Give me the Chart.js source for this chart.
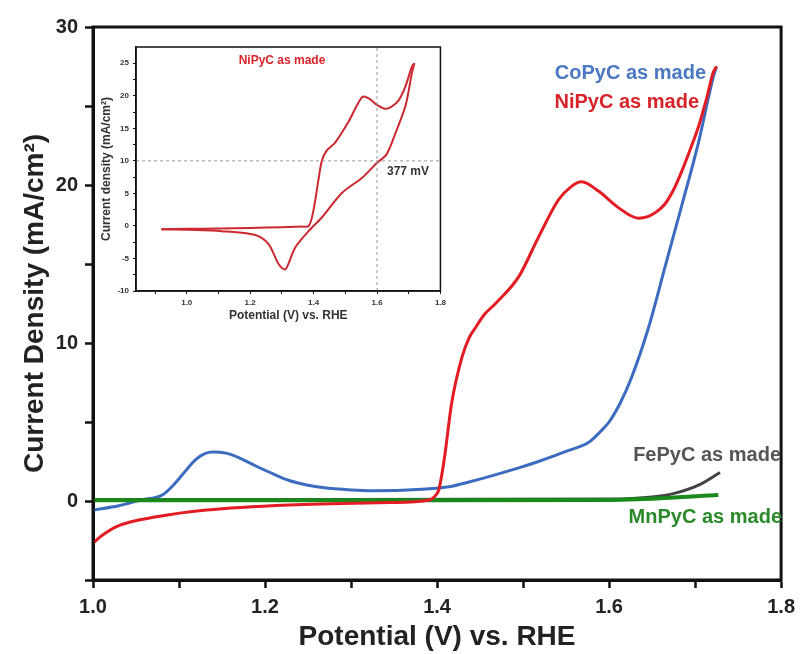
<!DOCTYPE html>
<html>
<head>
<meta charset="utf-8">
<script src="https://cdn.jsdelivr.net/npm/chart.js@4.4.1/dist/chart.umd.min.js"></script>
<style>
  body { margin: 0; background: #fff; }
  #wrap { position: relative; width: 802px; height: 654px; }
  #mainChart { position: absolute; left: 0; top: 0; }
  #insetChart { position: absolute; left: 95px; top: 38px; }
</style>
</head>
<body>
<div id="wrap">
  <canvas id="mainChart" width="802" height="654"></canvas>
  <canvas id="insetChart" width="355" height="290"></canvas>
</div>
<script>
'use strict';
//main panel data (potential in V vs RHE, current density in mA/cm2)
var coPotential = [1.0, 1.03, 1.055, 1.081, 1.095, 1.109, 1.12, 1.13, 1.139, 1.148, 1.16, 1.175, 1.19, 1.21, 1.228, 1.25, 1.267, 1.3, 1.325, 1.383, 1.414, 1.437, 1.495, 1.518, 1.553, 1.576, 1.59, 1.6, 1.613, 1.626, 1.646, 1.665, 1.684, 1.704, 1.721, 1.725];
var coCurrent = [-0.57, -0.3, 0.06, 0.4, 1.1, 2.0, 2.65, 3.0, 3.1, 3.08, 2.95, 2.6, 2.2, 1.7, 1.3, 1.0, 0.85, 0.7, 0.65, 0.75, 0.9, 1.2, 2.1, 2.5, 3.2, 3.7, 4.4, 5.0, 6.2, 7.8, 11.0, 14.8, 18.6, 22.7, 26.8, 27.5];

var niPotential = [1.0, 1.01, 1.028, 1.074, 1.132, 1.228, 1.344, 1.391, 1.399, 1.402, 1.408, 1.417, 1.429, 1.437, 1.445, 1.455, 1.468, 1.495, 1.518, 1.541, 1.556, 1.568, 1.588, 1.61, 1.634, 1.645, 1.655, 1.665, 1.675, 1.684, 1.694, 1.704, 1.713, 1.721, 1.725];
var niCurrent = [-2.66, -2.2, -1.6, -1.0, -0.57, -0.25, -0.1, 0.06, 0.4, 0.7, 2.5, 6.2, 9.1, 10.3, 11.0, 11.8, 12.5, 14.2, 16.7, 19.05, 19.9, 20.2, 19.6, 18.6, 17.9, 18.0, 18.3, 18.8, 19.7, 20.8, 22.2, 23.7, 25.4, 27.1, 27.5];

var fePotential = [1.0, 1.3, 1.6, 1.65, 1.677, 1.704, 1.729];
var feCurrent = [0.1, 0.1, 0.12, 0.25, 0.5, 1.0, 1.8];

var mnPotential = [1.0, 1.2, 1.4, 1.588, 1.65, 1.727];
var mnCurrent = [0.05, 0.05, 0.05, 0.06, 0.15, 0.38];

var potentialTicks = [1.0, 1.1, 1.2, 1.3, 1.4, 1.5, 1.6, 1.7, 1.8];
var currentTicks = [-5, 0, 5, 10, 15, 20, 25, 30];

//inset data: NiPyC cyclic voltammogram, forward then reverse sweep
var cvForwardPotential = [0.92, 1.0, 1.1, 1.2, 1.3, 1.36, 1.385, 1.40, 1.415, 1.426, 1.44, 1.468, 1.51, 1.553, 1.574, 1.60, 1.626, 1.645, 1.668, 1.69, 1.71, 1.718];
var cvForwardCurrent = [-0.5, -0.45, -0.4, -0.3, -0.2, -0.1, 0, 2.5, 7, 10, 11.5, 12.8, 16, 19.8, 19.6, 18.6, 18, 18.3, 19.3, 21.5, 24.5, 25];
var cvReversePotential = [1.718, 1.71, 1.69, 1.66, 1.63, 1.6, 1.553, 1.49, 1.426, 1.384, 1.342, 1.32, 1.31, 1.29, 1.258, 1.216, 1.11, 1.0, 0.92];
var cvReverseCurrent = [25, 23.5, 18.5, 14.5, 11, 9.7, 7.4, 5.1, 1.3, -0.8, -3.3, -5.9, -6.7, -5.9, -2.8, -1.4, -0.8, -0.6, -0.5];

var insetPotentialTicks = [0.9, 1.0, 1.1, 1.2, 1.3, 1.4, 1.5, 1.6, 1.7, 1.8];
var insetCurrentTicks = [-10, -7.5, -5, -2.5, 0, 2.5, 5, 7.5, 10, 12.5, 15, 17.5, 20, 22.5, 25];
var refCurrent = 10;   //10 mA/cm2 benchmark
var refPotential = 1.6;

var FONT = '"Liberation Sans", Arial, sans-serif';

function toPoints(xs, ys){
  var pts = [];
  for(var i = 0; i < xs.length; i++){
    pts.push({x: xs[i], y: ys[i]});
  }
  return pts;
}

//frame around plot area
var framePlugin = {
  id: 'frame',
  afterDraw: function(chart, args, opts){
    var a = chart.chartArea;
    var ctx = chart.ctx;
    ctx.save();
    ctx.strokeStyle = '#111';
    ctx.lineWidth = opts.width;
    ctx.strokeRect(a.left, a.top, a.right - a.left, a.bottom - a.top);
    ctx.restore();
  }
};

//text annotations
var textPlugin = {
  id: 'labels',
  afterDraw: function(chart, args, opts){
    var ctx = chart.ctx;
    ctx.save();
    ctx.textBaseline = 'middle';
    opts.items.forEach(function(it){
      ctx.font = it.font;
      ctx.fillStyle = it.color;
      ctx.textAlign = it.align;
      ctx.fillText(it.text, it.x, it.y);
    });
    ctx.restore();
  }
};

function setTicks(values){
  return function(scale){
    scale.ticks = values.map(function(v){ return {value: v}; });
  };
}

//main chart
new Chart(document.getElementById('mainChart').getContext('2d'), {
  type: 'line',
  data: {
    datasets: [
      {label: 'NiPyC as made', data: toPoints(niPotential, niCurrent), borderColor: '#e31b23', borderWidth: 3},
      {label: 'MnPyC as made', data: toPoints(mnPotential, mnCurrent), borderColor: '#1a8a1a', borderWidth: 4},
      {label: 'FePyC as made', data: toPoints(fePotential, feCurrent), borderColor: '#444', borderWidth: 3},
      {label: 'CoPyC as made', data: toPoints(coPotential, coCurrent), borderColor: '#3b6cc0', borderWidth: 3},
    ]
  },
  options: {
    responsive: false,
    animation: false,
    parsing: false,
    elements: {
      point: {radius: 0},
      line: {cubicInterpolationMode: 'monotone', fill: false}
    },
    layout: {padding: {top: 27, right: 19, left: 0, bottom: 0}},
    plugins: {
      legend: {display: false},
      tooltip: {enabled: false},
      frame: {width: 3},
      labels: {
        items: [
          {text: 'CoPyC as made', x: 706, y: 73, color: '#4a78c2', align: 'right', font: 'bold 20px ' + FONT},
          {text: 'NiPyC as made', x: 699, y: 102, color: '#d8232a', align: 'right', font: 'bold 20px ' + FONT},
          {text: 'FePyC as made', x: 781, y: 455, color: '#555', align: 'right', font: 'bold 20px ' + FONT},
          {text: 'MnPyC as made', x: 782, y: 517, color: '#2a8a2a', align: 'right', font: 'bold 20px ' + FONT},
        ]
      }
    },
    scales: {
      x: {
        type: 'linear',
        min: 1.0,
        max: 1.8,
        afterBuildTicks: setTicks(potentialTicks),
        afterFit: function(scale){ scale.height = 74; },
        grid: {drawOnChartArea: false, tickLength: 8, tickWidth: 2.5, tickColor: '#111'},
        border: {display: true, width: 3, color: '#111'},
        ticks: {
          padding: 7,
          color: '#222',
          font: {family: FONT, size: 20, weight: 'bold'},
          maxRotation: 0,
          autoSkip: false,
          callback: function(v){ return Math.round(v * 10) % 2 === 0 ? v.toFixed(1) : ''; }
        },
        title: {display: true, text: 'Potential (V) vs. RHE', color: '#222', font: {family: FONT, size: 28, weight: 'bold'}, padding: {top: 0, bottom: 0}}
      },
      y: {
        type: 'linear',
        min: -5,
        max: 30,
        afterBuildTicks: setTicks(currentTicks),
        afterFit: function(scale){ scale.width = 93; },
        grid: {drawOnChartArea: false, tickLength: 8, tickWidth: 2.5, tickColor: '#111'},
        border: {display: true, width: 3, color: '#111'},
        ticks: {
          padding: 7,
          color: '#222',
          font: {family: FONT, size: 20, weight: 'bold'},
          autoSkip: false,
          callback: function(v){ return v % 10 === 0 ? String(v) : ''; }
        },
        title: {display: true, text: 'Current Density (mA/cm\u00b2)', color: '#222', font: {family: FONT, size: 28, weight: 'bold'}, padding: {top: 18, bottom: 0}}
      }
    }
  },
  plugins: [framePlugin, textPlugin]
});

//inset chart
var dashStyle = {borderColor: '#999', borderWidth: 1, borderDash: [3, 3], tension: 0};
new Chart(document.getElementById('insetChart').getContext('2d'), {
  type: 'line',
  data: {
    datasets: [
      Object.assign({data: [{x: 0.84, y: refCurrent}, {x: 1.8, y: refCurrent}]}, dashStyle),
      Object.assign({data: [{x: refPotential, y: -10}, {x: refPotential, y: 27.5}]}, dashStyle),
      {label: 'forward', data: toPoints(cvForwardPotential, cvForwardCurrent), borderColor: '#cc2830', borderWidth: 2, tension: 0.3},
      {label: 'reverse', data: toPoints(cvReversePotential, cvReverseCurrent), borderColor: '#cc2830', borderWidth: 2, tension: 0.3},
    ]
  },
  options: {
    responsive: false,
    animation: false,
    parsing: false,
    elements: {point: {radius: 0}, line: {fill: false}},
    layout: {padding: {top: 9, right: 9, left: 0, bottom: 0}},
    plugins: {
      legend: {display: false},
      tooltip: {enabled: false},
      frame: {width: 1.5},
      labels: {
        items: [
          {text: 'NiPyC as made', x: 187, y: 23, color: '#d8232a', align: 'center', font: 'bold 12px ' + FONT},
          {text: '377 mV', x: 292, y: 134, color: '#333', align: 'left', font: 'bold 12px ' + FONT},
        ]
      }
    },
    scales: {
      x: {
        type: 'linear',
        min: 0.84,
        max: 1.8,
        afterBuildTicks: setTicks(insetPotentialTicks),
        afterFit: function(scale){ scale.height = 37; },
        grid: {drawOnChartArea: false, tickLength: 3, tickWidth: 1, tickColor: '#111'},
        border: {display: true, width: 1.5, color: '#111'},
        ticks: {
          padding: 4,
          color: '#333',
          font: {family: FONT, size: 8, weight: 'bold'},
          maxRotation: 0,
          autoSkip: false,
          callback: function(v){ return Math.round(v * 10) % 2 === 0 ? v.toFixed(1) : ''; }
        },
        title: {display: true, text: 'Potential (V) vs. RHE', color: '#333', font: {family: FONT, size: 12, weight: 'bold'}, padding: {top: 0, bottom: 5}}
      },
      y: {
        type: 'linear',
        min: -10,
        max: 27.5,
        afterBuildTicks: setTicks(insetCurrentTicks),
        afterFit: function(scale){ scale.width = 41; },
        grid: {drawOnChartArea: false, tickLength: 3, tickWidth: 1, tickColor: '#111'},
        border: {display: true, width: 1.5, color: '#111'},
        ticks: {
          padding: 4,
          color: '#333',
          font: {family: FONT, size: 8, weight: 'bold'},
          autoSkip: false,
          callback: function(v){ return v % 5 === 0 ? String(v) : ''; }
        },
        title: {display: true, text: 'Current density (mA/cm\u00b2)', color: '#333', font: {family: FONT, size: 12, weight: 'bold'}, padding: {top: 4, bottom: 0}}
      }
    }
  },
  plugins: [framePlugin, textPlugin]
});
</script>
</body>
</html>
